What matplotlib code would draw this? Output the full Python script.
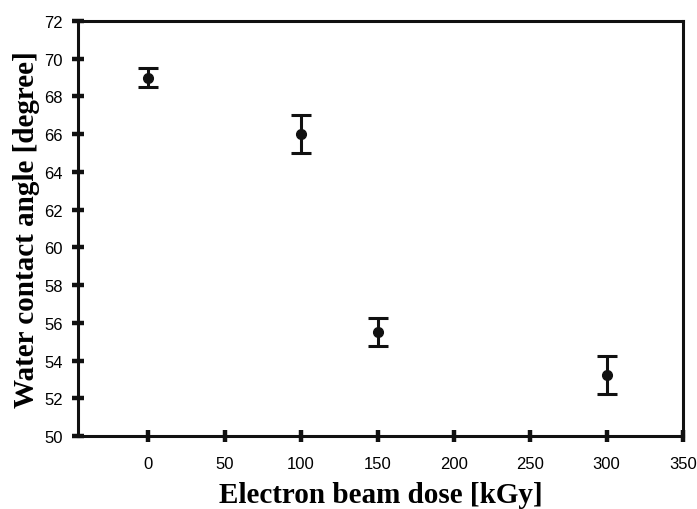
import matplotlib.pyplot as plt
import numpy as np

dose = [0, 100, 150, 300]
angle = [69.0, 66.0, 55.5, 53.25]
err = [0.5, 1.0, 0.75, 1.0]
xticks = [0, 50, 100, 150, 200, 250, 300, 350]
yticks = [50, 52, 54, 56, 58, 60, 62, 64, 66, 68, 70, 72]


def main():
    fig = plt.figure(figsize=(6.97, 5.10), dpi=100)
    ax = fig.add_axes([0.112, 0.143, 0.868, 0.814])
    ax.errorbar(dose, angle, yerr=err, fmt='o', color='#111111', markersize=7,
                elinewidth=2.2, capsize=7, capthick=2.2, ecolor='#111111')
    ax.set_xlim(-46, 350)
    ax.set_ylim(50, 72)
    ax.set_xticks(xticks)
    ax.set_yticks(yticks)
    for s in ax.spines.values():
        s.set_linewidth(2.2)
        s.set_color('#111111')
    ax.tick_params(axis='x', direction='inout', length=9, width=3.2, color='#111111',
                   labelsize=12, pad=10)
    ax.tick_params(axis='y', direction='inout', length=8, width=3.2, color='#111111',
                   labelsize=12, pad=7)
    for lab in ax.get_xticklabels() + ax.get_yticklabels():
        lab.set_family('Liberation Sans')
    ax.set_xlabel('Electron beam dose [kGy]', family='Liberation Serif',
                  fontweight='bold', fontsize=21, labelpad=7)
    ax.set_ylabel('Water contact angle [degree]', family='Liberation Serif',
                  fontweight='bold', fontsize=21, labelpad=3)
    fig.savefig('out.png', dpi=100)


if __name__ == "__main__":
    main()
